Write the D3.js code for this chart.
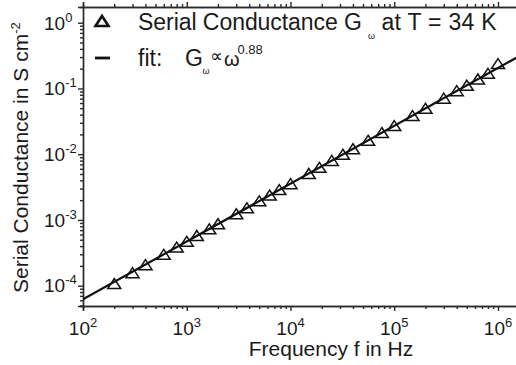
<!DOCTYPE html>
<html>
<head>
<meta charset="utf-8">
<script src="https://cdn.jsdelivr.net/npm/d3@7"></script>
<style>
  body { margin: 0; background: #fff; }
  text { font-family: "Liberation Sans", Arial, sans-serif; fill: #1a1a1a; }
</style>
</head>
<body>
<div id="chart-area"></div>
<script>
// measured points (Hz, S cm^-2)
var freq = [200, 300, 400, 600, 800, 1000, 1250, 1650, 2000, 3000, 3800, 5000, 6300, 7800,
            10000, 15000, 19000, 25000, 32000, 40000, 56000, 76000,
            100000, 150000, 200000, 300000, 400000, 500000, 640000, 800000, 1000000];
var conductance = [1.06e-4, 1.55e-4, 2.05e-4, 2.95e-4, 3.8e-4, 4.65e-4, 5.7e-4, 7.2e-4, 8.6e-4, 1.22e-3, 1.5e-3, 1.92e-3, 2.35e-3, 2.85e-3,
                   3.5e-3, 5.0e-3, 6.2e-3, 7.9e-3, 9.8e-3, 1.19e-2, 1.6e-2, 2.1e-2,
                   2.68e-2, 3.8e-2, 4.9e-2, 7.0e-2, 9.1e-2, 0.11, 0.137, 0.167, 0.235];

// fit line end points
var fitFreq = [100, 1.6e6];
var fitG = [6.2e-5, 0.31];

var xMajor = [2, 3, 4, 5, 6];
var yMajor = [-4, -3, -2, -1, 0];

drawChart();

function drawChart() {

    var W = 516, H = 365;
    var left = 83, plotTop = 7, bottom = 306;
    var right = left + 103.75 * 4.2;

    var svg = d3.select("#chart-area").append("svg")
        .attr("width", W)
        .attr("height", H);

    var x = d3.scaleLog().domain([100, Math.pow(10, 6.2)]).range([left, right]);
    var y = d3.scaleLog().domain([Math.pow(10, -4.309), Math.pow(10, 0.239)]).range([bottom, plotTop]);

    // tick values
    var xMinor = [], yMinor = [];
    for (var e = 2; e <= 6; e++) for (var k = 2; k <= 9; k++) xMinor.push(k * Math.pow(10, e));
    for (var e2 = -5; e2 <= 0; e2++) for (var k2 = 2; k2 <= 9; k2++) yMinor.push(k2 * Math.pow(10, e2));
    xMinor = xMinor.filter(function(v) { return v < x.domain()[1]; });
    yMinor = yMinor.filter(function(v) { return v > y.domain()[0] && v < y.domain()[1]; });
    var xMaj = xMajor.map(function(p) { return Math.pow(10, p); });
    var yMaj = yMajor.map(function(p) { return Math.pow(10, p); });

    function drawAxis(axisFn, scale, vals, size, transform) {
        var g = svg.append("g")
            .attr("transform", transform)
            .call(axisFn(scale).tickValues(vals).tickSize(size).tickFormat(""));
        g.selectAll("path, line").attr("stroke", "#2b2b2b").attr("stroke-width", 1.4);
        return g;
    }

    drawAxis(d3.axisBottom, x, xMaj, 5, "translate(0," + bottom + ")");
    drawAxis(d3.axisBottom, x, xMinor, 3, "translate(0," + bottom + ")");
    drawAxis(d3.axisTop, x, xMaj, 5, "translate(0," + plotTop + ")");
    drawAxis(d3.axisTop, x, xMinor, 3, "translate(0," + plotTop + ")");
    drawAxis(d3.axisLeft, y, yMaj, 5, "translate(" + left + ",0)");
    drawAxis(d3.axisLeft, y, yMinor, 3, "translate(" + left + ",0)");
    drawAxis(d3.axisRight, y, yMaj, 5, "translate(" + right + ",0)");
    drawAxis(d3.axisRight, y, yMinor, 3, "translate(" + right + ",0)");

    // tick labels with superscripts
    xMajor.forEach(function(p) {
        var t = svg.append("text")
            .attr("x", x(Math.pow(10, p)))
            .attr("y", 335)
            .attr("text-anchor", "middle")
            .style("font-size", "19px");
        t.append("tspan").text("10");
        t.append("tspan").attr("dy", -8).style("font-size", "13px").text(p);
    });

    yMajor.forEach(function(p) {
        var t = svg.append("text")
            .attr("x", 44)
            .attr("y", y(Math.pow(10, p)) + 6.8)
            .style("font-size", "19px");
        t.append("tspan").text("10");
        t.append("tspan").attr("dy", -8).style("font-size", "13px").text(p);
    });

    // axis titles
    svg.append("text")
        .attr("x", 331)
        .attr("y", 356)
        .attr("text-anchor", "middle")
        .style("font-size", "21px")
        .text("Frequency f in Hz");

    var yt = svg.append("text")
        .attr("transform", "translate(27.5,293) rotate(-90)")
        .style("font-size", "21px");
    yt.append("tspan").text("Serial Conductance in S cm");
    yt.append("tspan").attr("dy", -8).style("font-size", "13px").text("-2");

    // fit line
    var fitData = fitFreq.map(function(f, i) { return {f: f, g: fitG[i]}; });
    var line = d3.line()
        .x(function(d) { return x(d.f); })
        .y(function(d) { return y(d.g); });

    svg.append("clipPath").attr("id", "plot-clip")
        .append("rect")
        .attr("x", left).attr("y", plotTop)
        .attr("width", right - left).attr("height", bottom - plotTop);

    svg.append("path")
        .datum(fitData)
        .attr("clip-path", "url(#plot-clip)")
        .attr("d", line)
        .attr("fill", "none")
        .attr("stroke", "#111")
        .attr("stroke-width", 2.2);

    // triangles
    var tri = "M0,-5.5L6.5,4.5L-6.5,4.5Z";
    var points = freq.map(function(f, i) { return {f: f, g: conductance[i]}; });
    svg.selectAll(".pt")
        .data(points)
        .enter().append("path")
        .attr("class", "pt")
        .attr("d", tri)
        .attr("transform", function(d) { return "translate(" + x(d.f) + "," + y(d.g) + ")"; })
        .attr("fill", "none")
        .attr("stroke", "#111")
        .attr("stroke-width", 1.5);

    // legend
    svg.append("path")
        .attr("d", tri)
        .attr("transform", "translate(102,21.5)")
        .attr("fill", "none")
        .attr("stroke", "#111")
        .attr("stroke-width", 2.6);

    svg.append("line")
        .attr("x1", 95).attr("x2", 110)
        .attr("y1", 58).attr("y2", 58)
        .attr("stroke", "#111")
        .attr("stroke-width", 2.8);

    var l1 = svg.append("text").attr("x", 138).attr("y", 30).style("font-size", "23px");
    l1.append("tspan").attr("textLength", 224).attr("lengthAdjust", "spacing").text("Serial Conductance G");
    l1.append("tspan").attr("x", 368).attr("y", 38.5).style("font-size", "9px").text("ω");
    l1.append("tspan").attr("x", 381.5).attr("y", 30).attr("textLength", 115).attr("lengthAdjust", "spacing").text("at T = 34 K");

    var l2 = svg.append("text").attr("x", 138).attr("y", 65.5).style("font-size", "23px");
    l2.append("tspan").text("fit:");
    l2.append("tspan").attr("x", 185).text("G");
    l2.append("tspan").attr("x", 202.5).attr("y", 74).style("font-size", "9px").text("ω");
    l2.append("tspan").attr("x", 210).attr("y", 62).style("font-size", "18px").text("∝");
    l2.append("tspan").attr("x", 224).attr("y", 65.5).style("font-size", "20px").text("ω");
    l2.append("tspan").attr("x", 237.5).attr("y", 54).style("font-size", "13px").text("0.88");
}
</script>
</body>
</html>
